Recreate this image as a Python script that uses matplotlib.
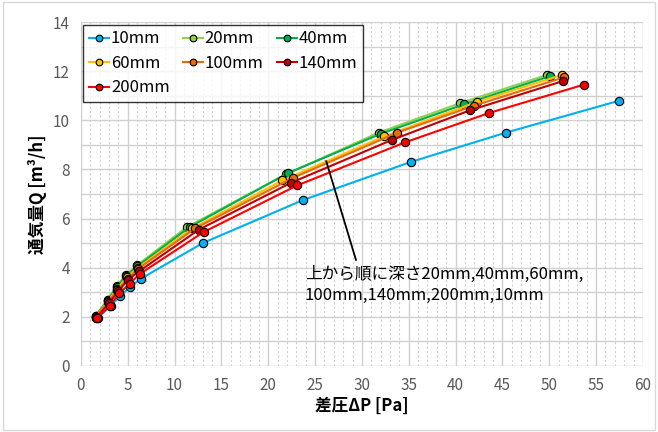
import matplotlib
matplotlib.use('Agg')
import matplotlib.pyplot as plt
from matplotlib.ticker import MultipleLocator

plt.rcParams['font.family'] = ['Noto Sans CJK JP', 'DejaVu Sans']

labels = ['10mm', '20mm', '40mm', '60mm', '100mm', '140mm', '200mm']
colors = ['#00B0F0', '#92D050', '#00B050', '#FFC000', '#E46C0A', '#C00000', '#FF0000']

dp_10 = [1.8, 3.2, 4.2, 5.2, 6.4, 13.0, 23.7, 35.2, 45.4, 57.5]
q_10 = [1.95, 2.45, 2.85, 3.2, 3.55, 5.0, 6.75, 8.3, 9.5, 10.8]
dp_20 = [1.6, 2.9, 3.8, 4.8, 6.0, 11.3, 21.9, 31.8, 40.5, 49.8]
q_20 = [2.05, 2.7, 3.25, 3.7, 4.1, 5.65, 7.8, 9.5, 10.7, 11.85]
dp_40 = [1.6, 2.9, 3.8, 4.8, 6.0, 11.6, 22.1, 32.0, 40.9, 50.1]
q_40 = [2.05, 2.7, 3.2, 3.65, 4.05, 5.65, 7.85, 9.45, 10.65, 11.8]
dp_60 = [1.6, 2.9, 3.9, 4.9, 6.1, 11.9, 21.5, 32.4, 42.3, 51.4]
q_60 = [2.0, 2.65, 3.15, 3.6, 4.0, 5.6, 7.55, 9.35, 10.75, 11.85]
dp_100 = [1.6, 2.9, 3.9, 5.0, 6.1, 12.2, 22.6, 33.8, 42.0, 51.6]
q_100 = [2.0, 2.6, 3.1, 3.55, 3.95, 5.6, 7.65, 9.5, 10.6, 11.75]
dp_140 = [1.6, 3.0, 4.0, 5.0, 6.2, 12.6, 22.4, 33.2, 41.5, 51.5]
q_140 = [1.95, 2.55, 3.05, 3.5, 3.85, 5.55, 7.45, 9.2, 10.4, 11.6]
dp_200 = [1.7, 3.1, 4.1, 5.2, 6.3, 13.1, 23.1, 34.6, 43.6, 53.7]
q_200 = [1.95, 2.45, 2.95, 3.35, 3.75, 5.45, 7.35, 9.1, 10.3, 11.45]

xs = [dp_10, dp_20, dp_40, dp_60, dp_100, dp_140, dp_200]
ys = [q_10, q_20, q_40, q_60, q_100, q_140, q_200]

fig = plt.figure(figsize=(6.58, 4.32), dpi=100)
ax = fig.add_axes([0.123, 0.153, 0.854, 0.796])

lines = []
for x, y, c, lab in zip(xs, ys, colors, labels):
    ln, = ax.plot(x, y, color=c, lw=1.5, marker='o', ms=6, mfc=c, mec='black',
                  mew=0.8, label=lab)
    lines.append(ln)

ax.set_xlim(0, 60)
ax.set_ylim(0, 14)
ax.xaxis.set_major_locator(MultipleLocator(5))
ax.xaxis.set_minor_locator(MultipleLocator(1))
ax.yaxis.set_major_locator(MultipleLocator(2))
ax.yaxis.set_minor_locator(MultipleLocator(1))
ax.grid(which='major', color='#d0d0d0', lw=1.0)
ax.grid(which='minor', axis='y', color='#d0d0d0', lw=1.0)
ax.grid(which='minor', axis='x', color='#d0d0d0', lw=0.8, ls=(0, (2, 2)))
ax.set_axisbelow(True)
for s in ax.spines.values():
    s.set_visible(False)
ax.tick_params(which='both', length=0, colors='#595959', labelsize=11, pad=8)

ax.set_xlabel('差圧ΔP [Pa]', fontsize=12, fontweight='bold', labelpad=2)
ax.set_ylabel('通気量Q [m³/h]', fontsize=12, fontweight='bold', labelpad=4)

# row-wise legend order (matplotlib fills columns first)
order = [0, 3, 6, 1, 4, 2, 5]
leg = ax.legend([lines[i] for i in order], [labels[i] for i in order],
                loc='upper left', ncol=3, fontsize=12, frameon=True, fancybox=False,
                edgecolor='black', borderpad=0.35, handlelength=1.2, handletextpad=0.1,
                columnspacing=0.8, labelspacing=0.45, borderaxespad=0.15,
                markerscale=0.8)
leg.get_frame().set_linewidth(1.0)

ax.annotate('上から順に深さ20mm,40mm,60mm,\n100mm,140mm,200mm,10mm',
            xy=(26.1, 8.45), xytext=(23.9, 3.3), fontsize=12, ha='left', va='center',
            linespacing=1.35,
            arrowprops=dict(arrowstyle='-', color='black', lw=1.3, relpos=(0.19, 1.0)))

fig.patches.append(plt.Rectangle((0.005, 0.005), 0.99, 0.99, transform=fig.transFigure,
                                 fill=False, edgecolor='#d9d9d9', lw=1))
fig.savefig('out.png', dpi=100)
